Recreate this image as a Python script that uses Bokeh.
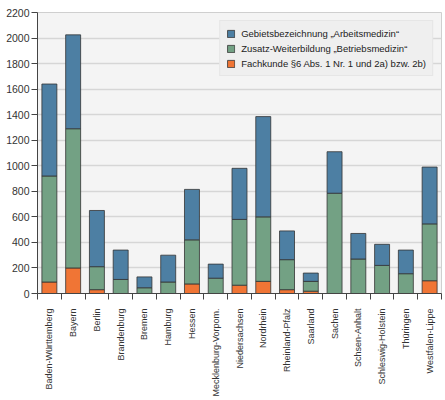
import math

from bokeh.plotting import figure
from bokeh.models import FixedTicker, Legend, LegendItem, Range1d
from bokeh.embed import file_html
from bokeh.resources import INLINE

# Bundesländer / Kammerbezirke
laender = ["Baden-Württemberg", "Bayern", "Berlin", "Brandenburg", "Bremen",
           "Hamburg", "Hessen", "Mecklenburg-Vorpom.", "Niedersachsen",
           "Nordrhein", "Rheinland-Pfalz", "Saarland", "Sachen",
           "Schsen-Anhalt", "Schleswig-Holstein", "Thüringen", "Westfalen-Lippe"]

# Werte (Anteile je Kategorie, gestapelt)
fachkunde = [90, 200, 30, 0, 0, 0, 75, 0, 65, 95, 30, 18, 0, 0, 0, 0, 100]
betriebsmedizin = [830, 1090, 180, 110, 45, 90, 345, 120, 515, 505, 235, 77, 785, 270, 220, 155, 445]
arbeitsmedizin = [720, 735, 440, 230, 85, 210, 395, 110, 400, 785, 225, 65, 325, 200, 165, 185, 445]

namen = ["Gebietsbezeichnung \u201eArbeitsmedizin\u201c",
         "Zusatz-Weiterbildung \u201eBetriebsmedizin\u201c",
         "Fachkunde §6 Abs. 1 Nr. 1 und 2a) bzw. 2b)"]
farben = {"arbeitsmedizin": "#4d7fa3", "betriebsmedizin": "#73a184", "fachkunde": "#f07535"}

y_ticks = list(range(0, 2201, 200))

xs = [i + 0.5 for i in range(len(laender))]
data = dict(x=xs, fachkunde=fachkunde, betriebsmedizin=betriebsmedizin,
            arbeitsmedizin=arbeitsmedizin)

p = figure(width=444, height=399, output_backend="svg", toolbar_location=None,
           x_range=Range1d(0, len(laender)), y_range=Range1d(0, 2200),
           min_border_left=37, min_border_right=3, min_border_top=12,
           min_border_bottom=102)

stack = ["fachkunde", "betriebsmedizin", "arbeitsmedizin"]
r = p.vbar_stack(stack, x="x", width=0.63, source=data,
                 color=[farben[s] for s in stack],
                 line_color="#333333", line_width=0.8)

p.background_fill_color = "#f4f4f4"
p.border_fill_color = "white"
p.outline_line_color = "#cfcfcf"
p.xgrid.grid_line_color = None
p.ygrid.grid_line_color = "#d6d6d6"
p.ygrid.grid_line_width = 1.5

font = "Liberation Sans"

p.yaxis.ticker = FixedTicker(ticks=y_ticks)
p.yaxis.major_tick_out = 6
p.yaxis.major_tick_in = 0
p.yaxis.minor_tick_line_color = None
p.yaxis.major_label_text_font = font
p.yaxis.major_label_text_font_size = "10.5px"
p.yaxis.major_label_text_color = "#333333"
p.yaxis.major_label_standoff = 2
p.yaxis.axis_line_color = "#444444"
p.yaxis.major_tick_line_color = "#444444"

p.xaxis.ticker = FixedTicker(ticks=xs, minor_ticks=list(range(len(laender) + 1)))
p.xaxis.major_label_overrides = {x: n for x, n in zip(xs, laender)}
p.xaxis.major_label_orientation = math.pi / 2
p.xaxis.major_tick_line_color = None
p.xaxis.major_tick_out = 0
p.xaxis.major_tick_in = 0
p.xaxis.minor_tick_out = 6
p.xaxis.minor_tick_in = 0
p.xaxis.minor_tick_line_color = "#444444"
p.xaxis.major_label_standoff = 9
p.xaxis.major_label_text_font = font
p.xaxis.major_label_text_font_size = "9px"
p.xaxis.major_label_text_color = "#333333"
p.xaxis.axis_line_color = "#444444"

legend = Legend(items=[LegendItem(label=namen[0], renderers=[r[2]]),
                       LegendItem(label=namen[1], renderers=[r[1]]),
                       LegendItem(label=namen[2], renderers=[r[0]])],
                location="top_right")
legend.background_fill_color = "#efefef"
legend.background_fill_alpha = 1
legend.border_line_color = "#dddddd"
legend.label_text_font = font
legend.label_text_font_size = "9.5px"
legend.label_text_color = "#222222"
legend.glyph_width = 9
legend.glyph_height = 9
legend.label_height = 12
legend.label_standoff = 6
legend.spacing = 3
legend.padding = 6
legend.margin = 8
p.add_layout(legend)

open("out.html", "w").write(file_html(p, INLINE))
